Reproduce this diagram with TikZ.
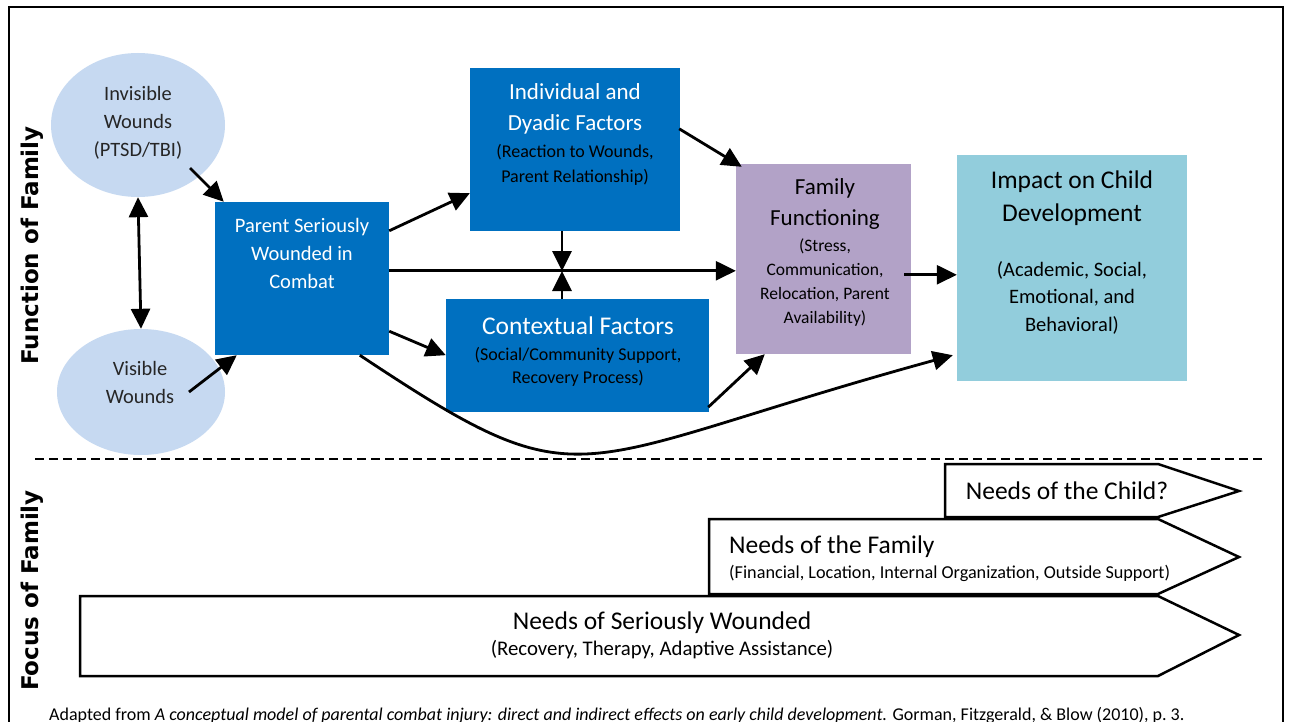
\documentclass[tikz,border=0pt]{standalone}
\usepackage{fontspec}
\setmainfont{Carlito}
\newfontfamily\lblfont{DejaVu Sans}
\usetikzlibrary{arrows.meta,calc,shapes.geometric}
\definecolor{boxblue}{HTML}{0070C0}
\definecolor{wound}{HTML}{C6D9F1}
\definecolor{famp}{HTML}{B2A2C7}
\definecolor{impc}{HTML}{92CDDC}
\definecolor{txtgray}{HTML}{262626}
\newcommand{\fsz}[2]{\fontsize{#1}{#2}\selectfont}
\begin{document}
\begin{tikzpicture}[x=1pt,y=-1pt,
  arr/.style={line width=2.8pt,-{Triangle[length=20pt,width=19pt]}},
  arrboth/.style={line width=2.8pt,{Triangle[length=20pt,width=19pt]}-{Triangle[length=20pt,width=19pt]}},
  wnd/.style={ellipse,fill=wound,inner sep=0pt},
  bluebox/.style={rectangle,fill=boxblue,inner sep=0pt},
  purplebox/.style={rectangle,fill=famp,inner sep=0pt},
  tealbox/.style={rectangle,fill=impc,inner sep=0pt},
  txt/.style={align=center,inner sep=0pt},
  needs/.style={draw=black,line width=2.5pt,fill=white,line join=miter},
  sidelbl/.style={rotate=90,inner sep=0pt,font=\lblfont\bfseries\fsz{23}{28}},
]
\useasboundingbox (0,0) rectangle (1290,722);
\clip (0,0) rectangle (1290,722);
\fill[white] (0,0) rectangle (1290,722);
% frame and separator
\draw[line width=2.5pt] (9,7) rectangle (1283,745);
\draw[line width=2pt,dash pattern=on 9pt off 5pt] (35,459) -- (1262,459);

% side labels
\node[sidelbl] (fnT) at (32,245.5) {Function of Family};
\node[sidelbl] (fcT) at (32,590.5) {Focus of Family};

% wounds
\node[wnd,minimum width=174pt,minimum height=144pt] (inv) at (138,125) {};
\node[txt,text=txtgray,font=\fsz{20.4}{28}] (invT) at (138,123) {Invisible\\Wounds\\(PTSD/TBI)};
\node[wnd,minimum width=168pt,minimum height=126pt] (vis) at (141,392) {};
\node[txt,text=txtgray,font=\fsz{20.4}{28}] (visT) at (140,382) {Visible\\Wounds};

% boxes
\node[bluebox,minimum width=174pt,minimum height=153pt] (parent) at (302,278.5) {};
\node[txt,text=white,font=\fsz{20.5}{28}] (parentT) at (302,253.5) {Parent Seriously\\Wounded in\\Combat};

\node[bluebox,minimum width=210pt,minimum height=163pt] (indiv) at (575,149.5) {};
\node[txt,text=white,font=\fsz{23}{31}] (indivT) at (575,108.5) {Individual and\\Dyadic Factors};
\node[txt,text=black,font=\fsz{18}{25}] (indivS) at (575,164.5) {(Reaction to Wounds,\\Parent Relationship)};

\node[bluebox,minimum width=263pt,minimum height=113pt] (context) at (577.5,355.5) {};
\node[txt,text=white,font=\fsz{25.5}{30}] (contextT) at (578,326) {Contextual Factors};
\node[txt,text=black,font=\fsz{18}{23}] (contextS) at (578,366.5) {(Social/Community Support,\\Recovery Process)};

\node[purplebox,minimum width=175pt,minimum height=190pt] (family) at (823.5,259) {};
\node[txt,text=black,font=\fsz{23}{31}] (familyT) at (825,203.5) {Family\\Functioning};
\node[txt,text=black,font=\fsz{17.5}{24}] (familyS) at (825,283) {(Stress,\\Communication,\\Relocation, Parent\\Availability)};

\node[tealbox,minimum width=230pt,minimum height=226pt] (impact) at (1072,268) {};
\node[txt,text=black,font=\fsz{25.5}{33}] (impactT) at (1072,198.5) {Impact on Child\\Development};
\node[txt,text=black,font=\fsz{20.5}{27.5}] (impactS) at (1072,297.5) {(Academic, Social,\\Emotional, and\\Behavioral)};

% connectors
\draw[arr] ($(inv.center)+(52,43)$) -- ($(parent.north west)+(9,0)$);
\draw[arr] ($(vis.center)+(48,0)$) -- ($(parent.south west)+(22,0)$);
\draw[arrboth] (inv.south) -- (vis.north);
\draw[arr] ($(parent.north east)+(0,29)$) -- ($(indiv.south west)+(0,-38)$);
\draw[arr] ($(parent.north east)+(0,69)$) -- ($(family.north west)+(0,107)$);
\coordinate (mid) at (562,271);
\draw[arr] (indiv.south -| mid) -- (mid);
\draw[arr] (context.north -| mid) -- (mid);
\draw[arr] ($(parent.south east)+(0,-24)$) -- ($(context.south west)+(0,-57)$);
\draw[arr] ($(indiv.north east)+(-1,61)$) -- ($(family.north west)+(6,3)$);
\draw[arr] ($(context.south east)+(-1,-5)$) -- ($(family.south west)+(29,0)$);
\draw[arr] ($(family.north east)+(-7,111)$) -- ($(impact.north west)+(0,120)$);
\draw[arr] ($(parent.south west)+(145,0)$) .. controls (590,508) and (560,463) .. ($(impact.south west)+(-4,-26)$);

% focus of family arrows
\draw[needs] (945,464) -- (1158,464) -- (1239,491) -- (1158,517) -- (945,517) -- cycle;
\draw[needs] (709,519) -- (1158,519) -- (1239,557) -- (1158,594) -- (709,594) -- cycle;
\draw[needs] (80,596) -- (1158,596) -- (1239,635) -- (1158,676) -- (80,676) -- cycle;
\node[txt,font=\fsz{25.5}{30}] (childT) at (1067,491) {Needs of the Child?};
\node[txt,font=\fsz{25.5}{30},anchor=west] (famN) at (729,547) {Needs of the Family};
\node[txt,font=\fsz{18.2}{22},anchor=west] (famS) at (729,573) {(Financial, Location, Internal Organization, Outside Support)};
\node[txt,font=\fsz{25.5}{30}] (serN) at (662,623) {Needs of Seriously Wounded};
\node[txt,font=\fsz{20.8}{24}] (serS) at (662,650) {(Recovery, Therapy, Adaptive Assistance)};

% caption
\node[txt,anchor=west,font=\fsz{18}{20}] (cap) at (49,715) {Adapted from \textit{A conceptual model of parental combat injury: direct and indirect effects on early child development.} Gorman, Fitzgerald, \& Blow (2010), p.~3.};
\end{tikzpicture}
\end{document}
